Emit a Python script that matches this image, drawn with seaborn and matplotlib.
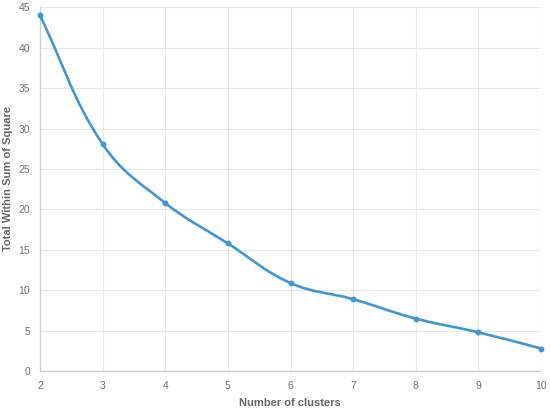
import numpy as np
import matplotlib
matplotlib.use('Agg')
import matplotlib.pyplot as plt
from matplotlib.path import Path
from matplotlib.patches import PathPatch
import seaborn as sns

# Dados (método do cotovelo)
clusters = [2, 3, 4, 5, 6, 7, 8, 9, 10]
wss = [44.0, 28.1, 20.8, 15.8, 10.9, 8.9, 6.5, 4.8, 2.8]

sns.set_style('white')
plt.rcParams['font.family'] = ['Liberation Sans', 'DejaVu Sans']

fig = plt.figure(figsize=(5.5, 4.11), dpi=100)
ax = fig.add_axes([0.0727, 0.097, 0.911, 0.885])

ax.set_xlim(2, 10)
ax.set_ylim(0, 45)
ax.set_xticks(clusters)
ax.set_yticks(range(0, 46, 5))

line_color = '#3f97d3'

# Pontos
sns.scatterplot(x=clusters, y=wss, ax=ax, color=line_color, s=18,
                edgecolor=line_color, linewidth=0, zorder=4, clip_on=False)

# Curva suavizada (spline estilo Chart.js, tensão 0.4)
fig.canvas.draw()
pts = ax.transData.transform(np.column_stack([clusters, wss]))
t = 0.4
verts = [pts[0]]
codes = [Path.MOVETO]
ctrl = []
for i in range(len(pts)):
    prev = pts[max(i - 1, 0)]
    nxt = pts[min(i + 1, len(pts) - 1)]
    cur = pts[i]
    d01 = np.hypot(*(cur - prev))
    d12 = np.hypot(*(nxt - cur))
    tot = d01 + d12 if d01 + d12 > 0 else 1
    fa = t * d01 / tot
    fb = t * d12 / tot
    ctrl.append((cur - fa * (nxt - prev), cur + fb * (nxt - prev)))
for i in range(len(pts) - 1):
    verts += [ctrl[i][1], ctrl[i + 1][0], pts[i + 1]]
    codes += [Path.CURVE4] * 3
verts = ax.transData.inverted().transform(np.array(verts))
patch = PathPatch(Path(verts, codes), facecolor='none', edgecolor=line_color,
                  linewidth=1.9, zorder=3, clip_on=False)
ax.add_patch(patch)

ax.grid(True, color='#e8e8e8', linewidth=0.8)
for side in ['top', 'right']:
    ax.spines[side].set_visible(False)
for side in ['left', 'bottom']:
    ax.spines[side].set_color('#cfcfcf')
    ax.spines[side].set_linewidth(1.0)
ax.tick_params(axis='both', colors='#e8e8e8', length=4, width=0.8,
               labelcolor='#707070', labelsize=7.5, pad=3)

ax.set_xlabel('Number of clusters', fontsize=8, fontweight='bold',
              color='#666666')
ax.set_ylabel('Total Within Sum of Square', fontsize=8, fontweight='bold',
              color='#666666')
ax.xaxis.set_label_coords(0.499, -0.088)
ax.yaxis.set_label_coords(-0.064, 0.53)
ax.xaxis.label.set_verticalalignment('center')
ax.yaxis.label.set_verticalalignment('center')

fig.savefig('out.png', dpi=100)
